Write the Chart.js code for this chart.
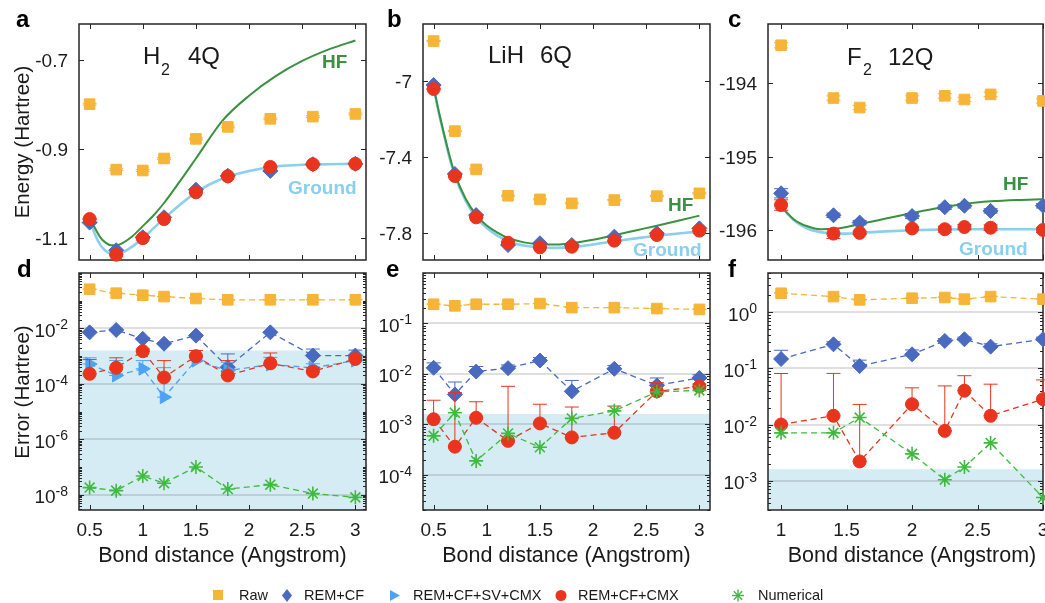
<!DOCTYPE html>
<html>
<head>
<meta charset="utf-8">
<script src="https://cdn.jsdelivr.net/npm/chart.js@4.4.1/dist/chart.umd.min.js"></script>
<style>
  html, body { margin: 0; padding: 0; background: #fff; }
  #fig { position: relative; width: 1045px; height: 603px; overflow: hidden;
         font-family: "Liberation Sans", Arial, Helvetica, sans-serif; color: #1a1a1a; }
  #fig canvas { position: absolute; left: 0; top: 0; }
  .t { position: absolute; white-space: nowrap; line-height: 1; }
</style>
</head>
<body>
<div id="fig">
  <canvas id="pa" width="1045" height="603"></canvas>
  <canvas id="pb" width="1045" height="603"></canvas>
  <canvas id="pc" width="1045" height="603"></canvas>
  <canvas id="pd" width="1045" height="603"></canvas>
  <canvas id="pe" width="1045" height="603"></canvas>
  <canvas id="pf" width="1045" height="603"></canvas>
</div>
<script>
// ---------------- H2 (4 qubits) ----------------
const h2Dist      = [0.5, 0.75, 1.0, 1.2, 1.5, 1.8, 2.2, 2.6, 3.0];
const h2Raw       = [-0.800, -0.947, -0.949, -0.922, -0.878, -0.851, -0.833, -0.828, -0.822];
const h2RemCf     = [-1.066, -1.128, -1.099, -1.054, -0.992, -0.961, -0.950, -0.935, -0.934];
const h2RemCfCmx  = [-1.058, -1.138, -1.101, -1.058, -0.998, -0.962, -0.941, -0.935, -0.934];
const h2SigRaw    = [0.002, 0.002, 0.002, 0.002, 0.002, 0.002, 0.002, 0.002, 0.002];
const h2SigRemCf  = [4e-4, 5e-4, 3e-4, 2e-4, 4e-4, 8e-4, 4e-4, 7.5e-4, 6e-4];
const h2SigSv     = [3.5e-4, 5e-4, 3.4e-4, 3.5e-4, 2e-4, 3e-4, 4e-4, 1.5e-4, 2e-4];
const h2SigCmx    = [5.2e-4, 4.9e-4, 3e-4, 5.2e-4, 6e-4, 4.9e-4, 7.5e-4, 1e-4, 2.6e-4];
const h2ErrRaw    = [0.26, 0.187, 0.158, 0.141, 0.12, 0.108, 0.108, 0.108, 0.108];
const h2ErrRemCf  = [7.2e-3, 8.8e-3, 4.2e-3, 2.8e-3, 5.5e-3, 4e-4, 7.2e-3, 1.05e-3, 1.05e-3];
const h2ErrSv     = [5.2e-4, 2e-4, 3.5e-4, 3.3e-5, 6.9e-4, 3e-4, 5e-4, 3.8e-4, 6.9e-4];
const h2ErrCmx    = [2.3e-4, 3.8e-4, 1.5e-3, 1.7e-4, 1e-3, 2e-4, 5.5e-4, 2.8e-4, 7.9e-4];
const h2ErrNum    = [1.8e-8, 1.4e-8, 4.7e-8, 2.6e-8, 1.0e-7, 1.6e-8, 2.3e-8, 1.1e-8, 8e-9];
const h2CurveDist = [0.5, 0.55, 0.6, 0.65, 0.7, 0.75, 0.8, 0.9, 1.0, 1.1, 1.2, 1.35, 1.5, 1.75, 2.0, 2.25, 2.5, 2.75, 3.0];
const h2Hf        = [-1.052, -1.078, -1.099, -1.111, -1.117, -1.117, -1.113, -1.097, -1.074, -1.050, -1.022, -0.973, -0.922, -0.837, -0.781, -0.737, -0.703, -0.677, -0.657];
const h2Ground    = [-1.058, -1.092, -1.116, -1.129, -1.136, -1.137, -1.134, -1.120, -1.101, -1.079, -1.057, -1.026, -0.998, -0.967, -0.950, -0.940, -0.936, -0.935, -0.934];

// ---------------- LiH (6 qubits) ----------------
const lihDist      = [0.5, 0.7, 0.9, 1.2, 1.5, 1.8, 2.2, 2.6, 3.0];
const lihRaw       = [-6.789, -7.264, -7.466, -7.605, -7.624, -7.645, -7.628, -7.607, -7.592];
const lihRemCf     = [-7.021, -7.490, -7.707, -7.865, -7.856, -7.865, -7.821, -7.803, -7.777];
const lihRemCfCmx  = [-7.042, -7.501, -7.719, -7.853, -7.877, -7.874, -7.842, -7.812, -7.789];
const lihSigRaw    = [0.003, 0.003, 0.003, 0.003, 0.003, 0.003, 0.003, 0.003, 0.003];
const lihSigRemCf  = [3.3e-3, 3.0e-3, 2.9e-3, 2.0e-3, 2.6e-3, 2.9e-3, 2.1e-3, 2.4e-3, 1.3e-3];
const lihSigCmx    = [1.74e-3, 3.9e-3, 1.45e-3, 5.2e-3, 1.46e-3, 1.65e-3, 1.62e-3, 2.2e-3, 0.7e-3];
const lihErrRaw    = [0.24, 0.223, 0.24, 0.24, 0.248, 0.206, 0.206, 0.197, 0.19];
const lihErrRemCf  = [1.32e-2, 3.9e-3, 1.11e-2, 1.3e-2, 1.84e-2, 4.5e-3, 1.26e-2, 5.9e-3, 8.3e-3];
const lihErrCmx    = [1.26e-3, 3.6e-4, 1.35e-3, 4.7e-4, 1.04e-3, 5.5e-4, 6.8e-4, 4.5e-3, 5.6e-3];
const lihErrNum    = [5.9e-4, 1.69e-3, 1.88e-4, 6.6e-4, 3.5e-4, 1.31e-3, 1.85e-3, 4.4e-3, 4.7e-3];
const lihCurveDist = [0.5, 0.55, 0.6, 0.65, 0.7, 0.8, 0.9, 1.0, 1.1, 1.2, 1.35, 1.5, 1.65, 1.8, 2.0, 2.2, 2.4, 2.6, 2.8, 3.0];
const lihHf        = [-7.030, -7.165, -7.283, -7.395, -7.490, -7.620, -7.707, -7.762, -7.800, -7.828, -7.851, -7.861, -7.862, -7.855, -7.837, -7.813, -7.788, -7.763, -7.737, -7.710];
const lihGround    = [-7.035, -7.170, -7.290, -7.405, -7.500, -7.630, -7.720, -7.775, -7.815, -7.845, -7.868, -7.878, -7.880, -7.876, -7.862, -7.845, -7.830, -7.816, -7.804, -7.795];

// ---------------- F2 (12 qubits) ----------------
const f2Dist      = [1.0, 1.4, 1.6, 2.0, 2.25, 2.4, 2.6, 3.0];
const f2Raw       = [-193.48, -194.20, -194.33, -194.20, -194.17, -194.22, -194.15, -194.24];
const f2RemCf     = [-195.50, -195.80, -195.90, -195.81, -195.69, -195.67, -195.74, -195.67];
const f2RemCfCmx  = [-195.66, -196.05, -196.04, -195.98, -195.99, -195.96, -195.97, -196.00];
const f2SigRaw    = [0.035, 0.03, 0.03, 0.03, 0.03, 0.03, 0.03, 0.03];
const f2SigRemCf  = [0.063, 0.03, 0.03, 0.035, 0.03, 0.03, 0.03, 0.03];
const f2SigCmx    = [0.071, 0.067, 0.0206, 0.022, 0.041, 0.034, 0.038, 0.034];
const f2ErrRaw    = [2.18, 1.9, 1.66, 1.78, 1.83, 1.71, 1.9, 1.71];
const f2ErrRemCf  = [0.147, 0.268, 0.11, 0.178, 0.308, 0.33, 0.244, 0.33];
const f2ErrCmx    = [1.0e-2, 1.43e-2, 2.2e-3, 2.3e-2, 7.7e-3, 4.0e-2, 1.43e-2, 2.83e-2];
const f2ErrNum    = [7.1e-3, 7.1e-3, 1.33e-2, 3.0e-3, 1.04e-3, 1.75e-3, 4.7e-3, 5.0e-4];
const f2CurveDist = [1.0, 1.1, 1.2, 1.3, 1.4, 1.5, 1.6, 1.8, 2.0, 2.2, 2.4, 2.6, 2.8, 3.0];
const f2Hf        = [-195.68, -195.86, -195.95, -195.99, -195.985, -195.96, -195.92, -195.845, -195.77, -195.70, -195.645, -195.61, -195.59, -195.58];
const f2Ground    = [-195.68, -195.87, -195.98, -196.03, -196.05, -196.05, -196.04, -196.02, -196.005, -195.995, -195.99, -195.99, -195.99, -195.99];

// chemical accuracy threshold (Hartree)
const chemAccuracy = 1.6e-3;

// ---------------- tick values / labels ----------------
const distTicksA   = [0.5, 1, 1.5, 2, 2.5, 3];
const distLabelsA  = ['0.5', '1', '1.5', '2', '2.5', '3'];
const distTicksF2  = [1, 1.5, 2, 2.5, 3];
const distLabelsF2 = ['1', '1.5', '2', '2.5', '3'];
const h2ETicks     = [-1.1, -0.9, -0.7];
const h2ELabels    = ['-1.1', '-0.9', '-0.7'];
const lihETicks    = [-7.8, -7.4, -7];
const lihELabels   = ['-7.8', '-7.4', '-7'];
const f2ETicks     = [-196, -195, -194];
const f2ELabels    = ['-196', '-195', '-194'];
const h2ErrExp     = [-8, -6, -4, -2];
const lihErrExp    = [-4, -3, -2, -1];
const f2ErrExp     = [-3, -2, -1, 0];

const COL = {
  raw: '#F6B537', remcf: '#4A6AC0', sv: '#4DA2F5', cmx: '#E9341E', num: '#3DBB3D',
  hf: '#3A9140', ground: '#8ACFEE', shade: '#D6ECF5', axis: '#262626', text: '#1c1c1c'
};
const FONT = '"Liberation Sans", Arial, Helvetica, sans-serif';
const W = 1045, H = 603;
const AXES = {};

// axes box, inward ticks, grid, shading and tick labels
const frameTicks = {
  id: 'frameTicks',
  beforeDatasetsDraw(chart) {
    const ax = AXES[chart.canvas.id];
    const { ctx, chartArea: a } = chart;
    const xs = chart.scales.x, ys = chart.scales.y;
    ctx.save();
    if (ax.shade !== undefined) {
      const py = ys.getPixelForValue(ax.shade);
      ctx.fillStyle = COL.shade;
      ctx.fillRect(a.left, py, a.right - a.left, a.bottom - py);
    }
    const yVals = ax.log ? ax.yExp.map(e => Math.pow(10, e)) : ax.yTicks;
    if (ax.grid) {
      ctx.strokeStyle = 'rgba(38,38,38,0.15)';
      ctx.lineWidth = 2;
      yVals.forEach(v => {
        const py = Math.round(ys.getPixelForValue(v));
        ctx.beginPath(); ctx.moveTo(a.left, py); ctx.lineTo(a.right, py); ctx.stroke();
      });
    }
    ctx.strokeStyle = COL.axis;
    ctx.lineWidth = 1;
    const TL = 5, TM = 3;
    ctx.beginPath();
    ax.xTicks.forEach(v => {
      const px = Math.round(xs.getPixelForValue(v)) + 0.5;
      ctx.moveTo(px, a.bottom); ctx.lineTo(px, a.bottom - TL);
      ctx.moveTo(px, a.top); ctx.lineTo(px, a.top + TL);
    });
    yVals.forEach(v => {
      const py = Math.round(ys.getPixelForValue(v)) + 0.5;
      ctx.moveTo(a.left, py); ctx.lineTo(a.left + TL, py);
      ctx.moveTo(a.right, py); ctx.lineTo(a.right - TL, py);
    });
    if (ax.log) {
      const lo = Math.floor(Math.log10(ys.min)), hi = Math.ceil(Math.log10(ys.max));
      for (let k = lo; k <= hi; k++) {
        for (let m = 1; m <= 9; m++) {
          if (m === 1 && ax.yExp.includes(k)) continue;
          const v = m * Math.pow(10, k);
          if (v < ys.min || v > ys.max) continue;
          const py = Math.round(ys.getPixelForValue(v)) + 0.5;
          ctx.moveTo(a.left, py); ctx.lineTo(a.left + TM, py);
          ctx.moveTo(a.right, py); ctx.lineTo(a.right - TM, py);
        }
      }
    }
    ctx.stroke();
    ctx.lineWidth = 1.5;
    ctx.strokeRect(a.left, a.top, a.right - a.left, a.bottom - a.top);

    // tick labels
    ctx.fillStyle = COL.text;
    ctx.textBaseline = 'alphabetic';
    if (ax.xLabels) {
      ctx.font = '19px ' + FONT;
      ctx.textAlign = 'center';
      ax.xTicks.forEach((v, i) => ctx.fillText(ax.xLabels[i], xs.getPixelForValue(v), a.bottom + 26));
    }
    const xr = a.left - 11;
    if (ax.log) {
      ax.yExp.forEach(e => {
        const py = ys.getPixelForValue(Math.pow(10, e));
        const ex = String(e);
        ctx.font = '14px ' + FONT;
        const we = ctx.measureText(ex).width;
        ctx.textAlign = 'left';
        ctx.fillText(ex, xr - we, py + 1);
        ctx.font = '19px ' + FONT;
        const wb = ctx.measureText('10').width;
        ctx.fillText('10', xr - we - wb, py + 8.5);
      });
    } else {
      ctx.font = '19px ' + FONT;
      ctx.textAlign = 'right';
      ax.yTicks.forEach((v, i) => ctx.fillText(ax.yLabels[i], xr, ys.getPixelForValue(v) + 7));
    }
    ctx.restore();
  }
};

// vertical error bars with caps, drawn right after each dataset
const errorBars = {
  id: 'errorBars',
  afterDatasetDraw(chart, args) {
    const ds = chart.data.datasets[args.index];
    if (!ds.sigma) return;
    const { ctx } = chart;
    const ys = chart.scales.y, xs = chart.scales.x;
    const cap = 7;
    ctx.save();
    ctx.strokeStyle = ds.barColor;
    ctx.lineWidth = 1;
    ds.data.forEach((p, i) => {
      const s = ds.sigma[i];
      const px = xs.getPixelForValue(p.x);
      const lowV = ds.errMode === 'up' ? p.y : p.y - s;
      const py1 = ys.getPixelForValue(lowV);
      const py2 = ys.getPixelForValue(p.y + s);
      ctx.beginPath();
      ctx.moveTo(px, py1); ctx.lineTo(px, py2);
      ctx.moveTo(px - cap, py1); ctx.lineTo(px + cap, py1);
      ctx.moveTo(px - cap, py2); ctx.lineTo(px + cap, py2);
      ctx.stroke();
    });
    ctx.restore();
  }
};

function pts(xs, ys) { return xs.map((x, i) => ({ x, y: ys[i] })); }

function markers(xs, ys, sig, kind, mode, dashed) {
  const st = {
    raw:   { style: 'rect',    r: 7.5, rot: 0,  order: 5 },
    remcf: { style: 'rectRot', r: 7.5, rot: 0,  order: 4 },
    sv:    { style: 'triangle', r: 7.5, rot: 90, order: 3 },
    cmx:   { style: 'circle',  r: 6.5, rot: 0,  order: 2 },
    num:   { style: 'star',    r: 7,   rot: 0,  order: 1 }
  }[kind];
  const c = COL[kind];
  return {
    data: pts(xs, ys), sigma: sig, errMode: mode, barColor: c,
    showLine: !!dashed, borderColor: c, backgroundColor: c, borderWidth: 1.3,
    borderDash: dashed ? [6, 4] : [],
    pointStyle: st.style, pointRadius: st.r, pointRotation: st.rot,
    pointBackgroundColor: c, pointBorderColor: c,
    pointBorderWidth: kind === 'num' ? 1.6 : 1,
    order: st.order, clip: false
  };
}

function curve(xs, ys, color, width, order) {
  return {
    data: pts(xs, ys), showLine: true, pointRadius: 0, borderColor: color,
    borderWidth: width, cubicInterpolationMode: 'monotone', order
  };
}

function panel(id, rect, xr, yr, logY, datasets, axis) {
  AXES[id] = axis;
  return new Chart(document.getElementById(id), {
    type: 'scatter',
    data: { datasets },
    options: {
      responsive: false, animation: false, devicePixelRatio: 1, events: [],
      layout: { autoPadding: false,
                padding: { left: rect[0], top: rect[1], right: W - rect[2], bottom: H - rect[3] } },
      scales: {
        x: { type: 'linear', min: xr[0], max: xr[1], display: false },
        y: { type: logY ? 'logarithmic' : 'linear', min: yr[0], max: yr[1], display: false }
      },
      plugins: { legend: { display: false }, tooltip: { enabled: false } }
    },
    plugins: [frameTicks, errorBars]
  });
}

// ---- energy panels ----
panel('pa', [79, 24, 366, 260], [0.4, 3.1], [-1.15, -0.62], false, [
  curve(h2CurveDist, h2Ground, COL.ground, 2.6, 7),
  curve(h2CurveDist, h2Hf, COL.hf, 2, 6),
  markers(h2Dist, h2Raw, h2SigRaw, 'raw', 'sym'),
  markers(h2Dist, h2RemCf, h2SigRemCf, 'remcf', 'sym'),
  markers(h2Dist, h2RemCfCmx, h2SigCmx, 'cmx', 'sym')
], { xTicks: distTicksA, yTicks: h2ETicks, yLabels: h2ELabels });

panel('pb', [423, 24, 710, 260], [0.4, 3.1], [-7.944, -6.699], false, [
  curve(lihCurveDist, lihGround, COL.ground, 2.6, 7),
  curve(lihCurveDist, lihHf, COL.hf, 2, 6),
  markers(lihDist, lihRaw, lihSigRaw, 'raw', 'sym'),
  markers(lihDist, lihRemCf, lihSigRemCf, 'remcf', 'sym'),
  markers(lihDist, lihRemCfCmx, lihSigCmx, 'cmx', 'sym')
], { xTicks: distTicksA, yTicks: lihETicks, yLabels: lihELabels });

panel('pc', [768, 24, 1043, 260], [0.9, 3.0], [-196.41, -193.19], false, [
  curve(f2CurveDist, f2Ground, COL.ground, 2.6, 7),
  curve(f2CurveDist, f2Hf, COL.hf, 2, 6),
  markers(f2Dist, f2Raw, f2SigRaw, 'raw', 'sym'),
  markers(f2Dist, f2RemCf, f2SigRemCf, 'remcf', 'sym'),
  markers(f2Dist, f2RemCfCmx, f2SigCmx, 'cmx', 'sym')
], { xTicks: distTicksF2, yTicks: f2ETicks, yLabels: f2ELabels });

// ---- error panels ----
panel('pd', [79, 273, 366, 510], [0.4, 3.1], [2.8e-9, 1], true, [
  markers(h2Dist, h2ErrRaw, h2SigRaw, 'raw', 'up', true),
  markers(h2Dist, h2ErrRemCf, h2SigRemCf, 'remcf', 'up', true),
  markers(h2Dist, h2ErrSv, h2SigSv, 'sv', 'up', true),
  markers(h2Dist, h2ErrCmx, h2SigCmx, 'cmx', 'up', true),
  markers(h2Dist, h2ErrNum, null, 'num', 'up', true)
], { xTicks: distTicksA, xLabels: distLabelsA, log: true, yExp: h2ErrExp, grid: true, shade: chemAccuracy });

panel('pe', [423, 273, 710, 510], [0.4, 3.1], [2e-5, 1], true, [
  markers(lihDist, lihErrRaw, lihSigRaw, 'raw', 'up', true),
  markers(lihDist, lihErrRemCf, lihSigRemCf, 'remcf', 'up', true),
  markers(lihDist, lihErrCmx, lihSigCmx, 'cmx', 'up', true),
  markers(lihDist, lihErrNum, null, 'num', 'up', true)
], { xTicks: distTicksA, xLabels: distLabelsA, log: true, yExp: lihErrExp, grid: true, shade: chemAccuracy });

panel('pf', [768, 273, 1043, 510], [0.9, 3.0], [3e-4, 5], true, [
  markers(f2Dist, f2ErrRaw, f2SigRaw, 'raw', 'up', true),
  markers(f2Dist, f2ErrRemCf, f2SigRemCf, 'remcf', 'up', true),
  markers(f2Dist, f2ErrCmx, f2SigCmx, 'cmx', 'up', true),
  markers(f2Dist, f2ErrNum, null, 'num', 'up', true)
], { xTicks: distTicksF2, xLabels: distLabelsF2, log: true, yExp: f2ErrExp, grid: true, shade: chemAccuracy });

// ---------------- text ----------------
const fig = document.getElementById('fig');
function txt(s, x, base, size, opt = {}) {
  const el = document.createElement('div');
  el.className = 't';
  el.textContent = s;
  el.style.fontSize = size + 'px';
  el.style.left = x + 'px';
  el.style.top = (base - 0.8465 * size) + 'px';
  if (opt.bold) el.style.fontWeight = 'bold';
  if (opt.color) el.style.color = opt.color;
  if (opt.align === 'center') el.style.transform = 'translateX(-50%)';
  fig.appendChild(el);
  return el;
}
function vtxt(s, cx, cy, size) {
  const el = document.createElement('div');
  el.className = 't';
  el.textContent = s;
  el.style.fontSize = size + 'px';
  el.style.left = cx + 'px';
  el.style.top = cy + 'px';
  el.style.transform = 'translate(-50%,-50%) rotate(-90deg)';
  fig.appendChild(el);
}

// panel letters
[['a', 16, 27], ['b', 387, 27], ['c', 728, 27], ['d', 17, 277], ['e', 386, 277], ['f', 728, 277]]
  .forEach(([s, x, b]) => txt(s, x, b, 24, { bold: true, color: '#000' }));

// molecule / qubit annotations
txt('H', 143, 64, 24); txt('2', 161, 76, 16); txt('4Q', 188, 64, 24);
txt('LiH', 488, 63, 24); txt('6Q', 540, 63, 24);
txt('F', 847, 65, 24); txt('2', 863, 76, 16); txt('12Q', 888, 65, 24);

// curve labels
txt('HF', 322, 68, 19, { bold: true, color: COL.hf });
txt('HF', 668, 211.5, 19, { bold: true, color: COL.hf });
txt('HF', 1003, 190, 19, { bold: true, color: COL.hf });
txt('Ground', 288, 194, 19, { bold: true, color: COL.ground });
txt('Ground', 633, 256.5, 19, { bold: true, color: COL.ground });
txt('Ground', 959, 255, 19, { bold: true, color: COL.ground });

// axis titles
vtxt('Energy (Hartree)', 22, 142, 20.5);
vtxt('Error (Hartree)', 22, 391.5, 20.5);
[222.5, 566.5, 912].forEach(cx => txt('Bond distance (Angstrom)', cx, 563, 21.5, { align: 'center' }));

// legend
const legendItems = [
  ['Raw', 218, 239, '<rect x="1" y="1" width="10" height="10" fill="' + COL.raw + '"/>'],
  ['REM+CF', 287, 304, '<polygon points="6,0 11,6.5 6,13 1,6.5" fill="' + COL.remcf + '"/>'],
  ['REM+CF+SV+CMX', 395, 413, '<polygon points="1,1 11,6.5 1,12" fill="' + COL.sv + '"/>'],
  ['REM+CF+CMX', 561, 578, '<circle cx="6" cy="6.5" r="5.5" fill="' + COL.cmx + '"/>'],
  ['Numerical', 738, 758, '<g stroke="' + COL.num + '" stroke-width="1.4"><line x1="6" y1="0.5" x2="6" y2="12.5"/><line x1="0" y1="6.5" x2="12" y2="6.5"/><line x1="1.8" y1="2.3" x2="10.2" y2="10.7"/><line x1="1.8" y1="10.7" x2="10.2" y2="2.3"/></g>']
];
legendItems.forEach(([label, mx, tx, shape]) => {
  const s = document.createElement('div');
  s.className = 't';
  s.style.left = (mx - 6) + 'px';
  s.style.top = (595 - 6.5) + 'px';
  s.innerHTML = '<svg width="12" height="13" viewBox="0 0 12 13">' + shape + '</svg>';
  fig.appendChild(s);
  txt(label, tx, 600, 14.5);
});
</script>
</body>
</html>
